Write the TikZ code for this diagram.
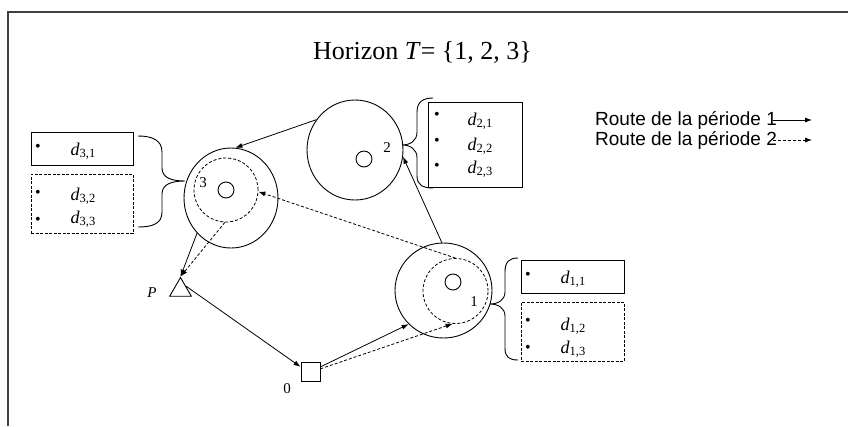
\documentclass[tikz,border=0pt]{standalone}
\usepackage{fontspec}
\setmainfont{Liberation Serif}
\newfontfamily\legendfont{Liberation Sans}
\usetikzlibrary{arrows.meta,shapes.geometric,calc}
\definecolor{framecol}{HTML}{404040}
\newcommand{\dlab}[1]{\textit{d}\raisebox{-0.3ex}{\fontsize{12.5}{12.5}\selectfont #1}}
\begin{document}
\begin{tikzpicture}[x=1pt,y=-1pt,
  outer/.style={ellipse,draw,line width=0.9pt,inner sep=0pt},
  dcirc/.style={circle,draw,line width=0.8pt,dash pattern=on 3pt off 2pt,inner sep=0pt},
  smallc/.style={circle,draw,line width=0.9pt,minimum size=16pt,inner sep=0pt},
  arr/.style={-{Latex[length=7pt,width=5pt]},line width=0.8pt},
  darr/.style={arr,dash pattern=on 3pt off 2pt},
  sbox/.style={draw,line width=0.9pt,inner sep=0pt},
  dbox/.style={sbox,dash pattern=on 3pt off 1.5pt},
  bul/.style={inner sep=0pt,anchor=base,font=\fontsize{16}{16}\selectfont},
  dtxt/.style={inner sep=0pt,anchor=base,font=\fontsize{18}{18}\selectfont},
  num/.style={inner sep=0pt,font=\fontsize{15}{15}\selectfont},
  brace/.style={line width=0.9pt}]
\useasboundingbox (0,0) rectangle (848,426);
% frame
\draw[framecol,line width=1.6pt] (8,426) -- (8,12) -- (848,12);
% title
\node[inner sep=0pt,font=\fontsize{26}{30}\selectfont] (title) at (422.5,52) {Horizon \textit{T}= \{1, 2, 3\}};
% customers
\node[outer,minimum width=96pt,minimum height=100pt] (c2) at (355,150) {};
\node[smallc] (s2) at (364,159) {};
\node[num] (n2) at (387,148) {2};
\node[outer,minimum width=94pt,minimum height=100pt] (c3) at (231,198) {};
\node[dcirc,minimum size=64pt] (d3) at (226,190) {};
\node[smallc] (s3) at (226,190) {};
\node[num] (n3) at (203,183) {3};
\node[outer,minimum width=97pt,minimum height=95pt] (c1) at (443.5,290.5) {};
\node[dcirc,minimum size=65pt] (d1) at (455.5,291) {};
\node[smallc] (s1) at (453,282) {};
\node[num] (n1) at (474,302) {1};
% depot and plant
\node[regular polygon,regular polygon sides=3,draw,line width=0.9pt,minimum size=25pt,inner sep=0pt] (P) at (180.5,290) {};
\node[num,font=\fontsize{15}{15}\selectfont\itshape] (Pl) at (152,293) {P};
\node[draw,line width=0.9pt,minimum size=19pt,inner sep=0pt] (sq) at (310.5,371.5) {};
\node[num] (zl) at (287,389) {0};
% demand boxes
\node[sbox,minimum width=102pt,minimum height=33pt] (b31) at (82,148.5) {};
\node[dbox,minimum width=102pt,minimum height=59pt] (b32) at (82,203.5) {};
\node[bul] (u31) at (38,151) {•};
\node[bul] (u32) at (38,197) {•};
\node[bul] (u33) at (38,224) {•};
\node[dtxt] (t31) at (83,155) {\dlab{3,1}};
\node[dtxt] (t32) at (83,200) {\dlab{3,2}};
\node[dtxt] (t33) at (83,223) {\dlab{3,3}};
\node[sbox,minimum width=94pt,minimum height=85pt] (b2) at (475,144.5) {};
\node[bul] (u21) at (437,119) {•};
\node[bul] (u22) at (437,145) {•};
\node[bul] (u23) at (437,170) {•};
\node[dtxt] (t21) at (480,125) {\dlab{2,1}};
\node[dtxt] (t22) at (480,150) {\dlab{2,2}};
\node[dtxt] (t23) at (480,173) {\dlab{2,3}};
\node[sbox,minimum width=103pt,minimum height=33pt] (b11) at (572.5,276.5) {};
\node[dbox,minimum width=103pt,minimum height=59pt] (b12) at (572.5,331.5) {};
\node[bul] (u11) at (528,279) {•};
\node[bul] (u12) at (528,325) {•};
\node[bul] (u13) at (528,352) {•};
\node[dtxt] (t11) at (573,283) {\dlab{1,1}};
\node[dtxt] (t12) at (573,330) {\dlab{1,2}};
\node[dtxt] (t13) at (573,353) {\dlab{1,3}};
% braces
\draw[brace] (138,136) .. controls (152,136) and (162,140) .. (162,152) -- (162,168) .. controls (162,178) and (172,181) .. (185,181) .. controls (172,181) and (162,184) .. (162,194) -- (162,212) .. controls (162,224) and (152,227) .. (138,227);
\draw[brace] (433,98) .. controls (423,98) and (417,102) .. (417,112) -- (417,132) .. controls (417,141) and (410,145) .. (402,145) .. controls (410,145) and (417,149) .. (417,158) -- (417,176) .. controls (417,185) and (423,188) .. (433,188);
\draw[brace] (518,258) .. controls (509,258) and (505,262) .. (505,272) -- (505,292) .. controls (505,300) and (498,304) .. (490,304) .. controls (498,304) and (505,308) .. (505,316) -- (505,348) .. controls (505,357) and (509,360) .. (518,360);
% routes period 1
\draw[arr] (c2.142) -- (c3.85);
\draw[arr] (c3.226) -- (P.north);
\draw[arr] (P.35) -- (sq.155);
\draw[arr] (sq.25) -- (c1.224);
\draw[arr] (c1.92) -- (c2.-8);
% routes period 2
\draw[darr] (sq.15) -- (d1.265);
\draw[darr] (d1.90) -- (d3.-3);
\draw[darr] (d3.268) -- (P.north);
% legend
\node[inner sep=0pt,anchor=west,font=\legendfont\fontsize{19}{19}\selectfont] (leg1) at (595,120) {Route de la période 1};
\node[inner sep=0pt,anchor=west,font=\legendfont\fontsize{19}{19}\selectfont] (leg2) at (595,140) {Route de la période 2};
\coordinate (l1s) at (773,120);
\coordinate (l1e) at (812,120);
\coordinate (l2s) at (773,140);
\coordinate (l2e) at (812,140);
\draw[arr] (l1s) -- (l1e);
\draw[darr] (l2s) -- (l2e);
\end{tikzpicture}
\end{document}
